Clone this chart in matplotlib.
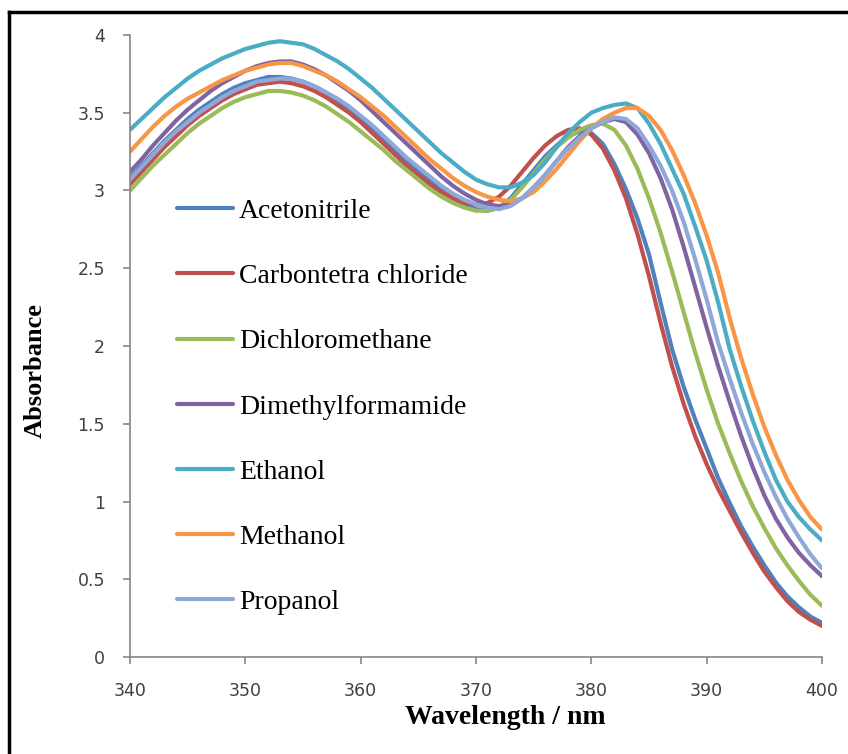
import matplotlib
matplotlib.use("Agg")
import matplotlib.pyplot as plt
import numpy as np
from matplotlib.lines import Line2D

wavelength = np.arange(340, 401)

acetonitrile = [3.08, 3.16, 3.24, 3.32, 3.39, 3.46, 3.52, 3.57, 3.62, 3.66,
                3.69, 3.71, 3.73, 3.73, 3.72, 3.70, 3.67, 3.63, 3.58, 3.53,
                3.47, 3.40, 3.33, 3.26, 3.19, 3.12, 3.06, 3.00, 2.95, 2.91,
                2.88, 2.87, 2.89, 2.95, 3.04, 3.13, 3.22, 3.29, 3.35, 3.38,
                3.37, 3.30, 3.17, 3.01, 2.82, 2.59, 2.28, 1.98, 1.74, 1.53,
                1.34, 1.15, 0.99, 0.84, 0.71, 0.59, 0.48, 0.39, 0.32, 0.26,
                0.22]
carbontetrachloride = [3.04, 3.12, 3.20, 3.28, 3.35, 3.42, 3.48, 3.53, 3.58, 3.62,
                       3.65, 3.68, 3.69, 3.70, 3.69, 3.67, 3.64, 3.60, 3.55, 3.50,
                       3.44, 3.37, 3.30, 3.23, 3.16, 3.10, 3.04, 2.99, 2.95, 2.92,
                       2.91, 2.92, 2.96, 3.03, 3.12, 3.21, 3.29, 3.35, 3.39, 3.40,
                       3.36, 3.27, 3.13, 2.95, 2.72, 2.45, 2.15, 1.87, 1.63, 1.42,
                       1.24, 1.08, 0.94, 0.80, 0.67, 0.55, 0.45, 0.36, 0.29, 0.24,
                       0.20]
dichloromethane = [3.00, 3.08, 3.16, 3.23, 3.30, 3.37, 3.43, 3.48, 3.53, 3.57,
                   3.60, 3.62, 3.64, 3.64, 3.63, 3.61, 3.58, 3.54, 3.49, 3.44,
                   3.38, 3.32, 3.26, 3.19, 3.13, 3.07, 3.01, 2.96, 2.92, 2.89,
                   2.87, 2.87, 2.89, 2.94, 3.02, 3.11, 3.20, 3.28, 3.34, 3.39,
                   3.42, 3.43, 3.39, 3.29, 3.14, 2.95, 2.73, 2.48, 2.22, 1.96,
                   1.72, 1.50, 1.31, 1.13, 0.97, 0.83, 0.70, 0.59, 0.49, 0.40,
                   0.33]
dimethylformamide = [3.12, 3.20, 3.29, 3.37, 3.45, 3.52, 3.58, 3.64, 3.69, 3.73,
                     3.77, 3.80, 3.82, 3.83, 3.83, 3.81, 3.78, 3.74, 3.69, 3.64,
                     3.58, 3.51, 3.44, 3.37, 3.30, 3.23, 3.16, 3.09, 3.03, 2.98,
                     2.94, 2.91, 2.90, 2.91, 2.95, 3.02, 3.10, 3.19, 3.28, 3.35,
                     3.40, 3.44, 3.46, 3.44, 3.36, 3.24, 3.08, 2.88, 2.64, 2.38,
                     2.12, 1.87, 1.64, 1.42, 1.22, 1.04, 0.89, 0.77, 0.67, 0.59,
                     0.52]
ethanol = [3.39, 3.46, 3.53, 3.60, 3.66, 3.72, 3.77, 3.81, 3.85, 3.88,
           3.91, 3.93, 3.95, 3.96, 3.95, 3.94, 3.91, 3.87, 3.83, 3.78,
           3.72, 3.66, 3.59, 3.52, 3.45, 3.38, 3.31, 3.24, 3.18, 3.12,
           3.07, 3.04, 3.02, 3.02, 3.05, 3.10, 3.18, 3.28, 3.37, 3.44,
           3.50, 3.53, 3.55, 3.56, 3.53, 3.43, 3.30, 3.14, 2.98, 2.77,
           2.55, 2.28, 1.98, 1.74, 1.52, 1.32, 1.14, 1.00, 0.90, 0.82,
           0.75]
methanol = [3.25, 3.33, 3.41, 3.48, 3.54, 3.59, 3.63, 3.67, 3.71, 3.74,
            3.77, 3.79, 3.81, 3.82, 3.82, 3.80, 3.77, 3.74, 3.70, 3.65,
            3.60, 3.54, 3.48, 3.41, 3.34, 3.27, 3.20, 3.14, 3.08, 3.03,
            2.99, 2.96, 2.94, 2.93, 2.95, 2.99, 3.06, 3.14, 3.23, 3.32,
            3.40, 3.46, 3.50, 3.53, 3.53, 3.48, 3.39, 3.26, 3.10, 2.92,
            2.71, 2.47, 2.18, 1.92, 1.69, 1.48, 1.30, 1.14, 1.01, 0.90,
            0.82]
propanol = [3.07, 3.15, 3.23, 3.31, 3.38, 3.44, 3.50, 3.55, 3.60, 3.64,
            3.67, 3.70, 3.71, 3.72, 3.72, 3.70, 3.67, 3.63, 3.59, 3.54,
            3.48, 3.42, 3.35, 3.28, 3.21, 3.15, 3.09, 3.03, 2.98, 2.94,
            2.91, 2.89, 2.88, 2.90, 2.95, 3.02, 3.10, 3.19, 3.27, 3.34,
            3.40, 3.44, 3.47, 3.46, 3.40, 3.29, 3.16, 3.00, 2.80, 2.56,
            2.30, 2.02, 1.79, 1.57, 1.37, 1.19, 1.03, 0.89, 0.77, 0.66,
            0.57]

labels = ["Acetonitrile", "Carbontetra chloride", "Dichloromethane",
          "Dimethylformamide", "Ethanol", "Methanol", "Propanol"]
series = [acetonitrile, carbontetrachloride, dichloromethane,
          dimethylformamide, ethanol, methanol, propanol]
colors = ["#4F81BD", "#C0504D", "#9BBB59", "#8064A2", "#4BACC6", "#F79646", "#8FA8D8"]

serif = "Liberation Serif"

fig = plt.figure(figsize=(8.48, 7.54), dpi=100)
ax = fig.add_axes([0.1533, 0.1286, 0.816, 0.825])

for y, lab, c in zip(series, labels, colors):
    ax.plot(wavelength, y, color=c, lw=3, label=lab, solid_capstyle="round")

ax.set_xlim(340, 400)
ax.set_ylim(0, 4)
ax.set_xticks(np.arange(340, 401, 10))
ax.set_yticks(np.arange(0, 4.01, 0.5))
ax.set_yticklabels(["0", "0.5", "1", "1.5", "2", "2.5", "3", "3.5", "4"])

for s in ["top", "right"]:
    ax.spines[s].set_visible(False)
for s in ["left", "bottom"]:
    ax.spines[s].set_color("#868686")
    ax.spines[s].set_linewidth(1.2)
ax.tick_params(direction="out", length=5, width=1.2, color="#868686",
               labelsize=12.5, labelcolor="#404040", pad=13)

ax.set_xlabel("Wavelength / nm", family=serif, fontweight="bold", fontsize=20, va="center")
ax.xaxis.set_label_coords(0.542, -0.098)
ax.set_ylabel("Absorbance", family=serif, fontweight="bold", fontsize=19, va="center")
ax.yaxis.set_label_coords(-0.137, 0.461)

ax.legend(loc="upper left", bbox_to_anchor=(0.068, 0.737), frameon=False,
          prop={"family": serif, "size": 20}, handlelength=2.0,
          handletextpad=0.22, labelspacing=1.43, borderpad=0, borderaxespad=0)

# black frame round the chart (top and left edges)
fig.add_artist(Line2D([0.0106, 1.0], [0.984, 0.984], color="black", lw=2.5,
                      transform=fig.transFigure))
fig.add_artist(Line2D([0.0106, 0.0106], [0.0, 0.984], color="black", lw=2.5,
                      transform=fig.transFigure))

fig.savefig("out.png", dpi=100)
